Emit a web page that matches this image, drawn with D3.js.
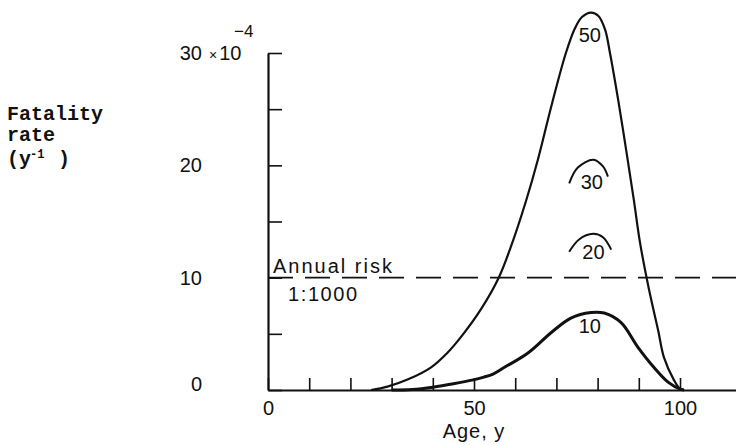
<!DOCTYPE html>
<html lang="en">
<head>
  <meta charset="UTF-8">
  <title>Fatality rate by age</title>
  <script src="https://d3js.org/d3.v7.min.js"></script>
  <style>
    body { margin: 0; background: #fff; }
    text { fill: #111; }
    .sans { font-family: "Liberation Sans", Arial, sans-serif; font-size: 20px; }
    .mono { font-family: "Liberation Mono", "Courier New", monospace; font-size: 20px; font-weight: bold; }
    .axis .domain { stroke: #111; stroke-width: 2.2; }
    .axis line { stroke: #111; stroke-width: 1.6; }
  </style>
</head>
<body>
  <svg id="chart" width="736" height="445"></svg>
  <script>
    // values, rate in units of 1e-4 per year
    const curve50Age  = [25, 29, 34, 39.5, 43.5, 47, 51.7, 56, 59, 62.6, 65.5, 69, 72.3, 74.5, 76.2, 78.4, 80.2, 81.8, 83, 85, 87, 88.8, 90.3, 92.5, 94.7, 96.1, 98.5, 100, 101];
    const curve50Rate = [0, 0.3, 0.95, 2.0, 3.3, 4.8, 7.2, 10, 12.8, 16.8, 20.5, 25.6, 30, 32.2, 33.2, 33.6, 33.3, 32.1, 30, 25.8, 21.2, 16.9, 13.1, 8.9, 5.3, 2.9, 0.9, 0.1, 0];

    const curve10Age  = [30, 35, 40, 45, 49.8, 52.4, 54.5, 57.3, 63.1, 68.7, 73.5, 78.4, 81.6, 85.7, 89.8, 93.7, 97.1, 100.2, 101];
    const curve10Rate = [0, 0.05, 0.25, 0.55, 0.9, 1.15, 1.4, 2.0, 3.3, 5.1, 6.4, 6.9, 6.85, 6.0, 3.8, 2.0, 0.7, 0.05, 0];

    const arc30Age  = [73.1, 75.2, 79.0, 81.3, 82.5];
    const arc30Rate = [18.4, 19.8, 20.5, 19.9, 19.0];
    const arc20Age  = [73.1, 75.5, 78.9, 81.3, 83.3];
    const arc20Rate = [12.3, 13.4, 13.9, 13.6, 12.5];

    const riskLevel = 10;

    const xTickValues = [0, 10, 20, 30, 40, 50, 60, 70, 80, 90, 100];
    const xTickLabels = ["0", "", "", "", "", "50", "", "", "", "", "100"];
    const yTickValues = [0, 5, 10, 15, 20, 25, 30];
    const yTickLabels = ["0", "", "10", "", "20", "", "30"];

    const svg = d3.select("svg#chart");

    const x = d3.scaleLinear().domain([0, 114]).range([268, 737.7]);
    const y = d3.scaleLinear().domain([0, 30]).range([390, 53]);

    // x axis, ticks pointing up
    const bottomAxis = d3.axisBottom(x)
                         .tickValues(xTickValues)
                         .tickSizeInner(-12)
                         .tickSizeOuter(0)
                         .tickPadding(11)
                         .tickFormat((d, i) => xTickLabels[i]);
    svg.append("g")
       .attr("class", "x axis")
       .attr("transform", `translate(0,${y(0)})`)
       .call(bottomAxis)
       .call(g => g.selectAll("text").attr("class", "sans").attr("fill", "#111"));

    // y axis, ticks pointing right
    const leftAxis = d3.axisLeft(y)
                       .tickValues(yTickValues)
                       .tickSizeInner(-14)
                       .tickSizeOuter(0)
                       .tickPadding(66)
                       .tickFormat((d, i) => yTickLabels[i]);
    svg.append("g")
       .attr("class", "y axis")
       .attr("transform", `translate(${x(0)},0)`)
       .call(leftAxis)
       .call(g => g.selectAll("text").attr("class", "sans").attr("fill", "#111"))
       .call(g => g.selectAll(".tick text").filter(d => d === 0).attr("dy", "0.0em"));

    // multiplier next to the top label
    const mult = svg.append("text")
       .attr("class", "sans")
       .attr("x", x(0) - 59)
       .attr("y", y(30) + 7);
    mult.append("tspan").style("font-size", "14px").text("×");
    mult.append("tspan").attr("dx", 2).text("10");
    svg.append("text")
       .attr("class", "sans")
       .style("font-size", "17px")
       .attr("x", x(0) - 34)
       .attr("y", y(30) - 16)
       .text("−4");

    // annual risk line
    svg.append("line")
       .attr("x1", x(0)).attr("x2", x(114))
       .attr("y1", y(riskLevel)).attr("y2", y(riskLevel))
       .attr("stroke", "#111")
       .attr("stroke-width", 1.6)
       .attr("stroke-dasharray", "25 12");

    svg.append("text")
       .attr("class", "sans")
       .attr("x", x(0) + 5)
       .attr("y", y(riskLevel) - 5)
       .style("letter-spacing", "2px")
       .text("Annual risk");
    svg.append("text")
       .attr("class", "sans")
       .attr("x", x(0) + 20)
       .attr("y", y(riskLevel) + 23)
       .style("letter-spacing", "1.6px")
       .text("1:1000");

    const lineGen = d3.line()
                      .x(d => x(d[0]))
                      .y(d => y(d[1]))
                      .curve(d3.curveCatmullRom.alpha(0.5));

    svg.append("path")
       .datum(d3.zip(curve50Age, curve50Rate))
       .attr("fill", "none")
       .attr("stroke", "#111")
       .attr("stroke-width", 2.2)
       .attr("d", lineGen);

    svg.append("path")
       .datum(d3.zip(curve10Age, curve10Rate))
       .attr("fill", "none")
       .attr("stroke", "#111")
       .attr("stroke-width", 3)
       .attr("d", lineGen);

    [[arc30Age, arc30Rate], [arc20Age, arc20Rate]].forEach(a => {
      svg.append("path")
         .datum(d3.zip(a[0], a[1]))
         .attr("fill", "none")
         .attr("stroke", "#111")
         .attr("stroke-width", 2)
         .attr("d", lineGen);
    });

    // curve labels
    [["50", 78.1, 31.0], ["30", 78.6, 17.9], ["20", 79.0, 11.7], ["10", 78.1, 5.1]].forEach(l => {
      svg.append("text")
         .attr("class", "sans")
         .attr("text-anchor", "middle")
         .attr("x", x(l[1]))
         .attr("y", y(l[2]))
         .text(l[0]);
    });

    // axis titles
    svg.append("text")
       .attr("class", "sans")
       .attr("text-anchor", "middle")
       .attr("x", x(50))
       .attr("y", 438)
       .style("letter-spacing", "1px")
       .text("Age, y");

    svg.append("text").attr("class", "mono").attr("x", 7).attr("y", 120).text("Fatality");
    svg.append("text").attr("class", "mono").attr("x", 7).attr("y", 141).text("rate");
    svg.append("text").attr("class", "mono").attr("x", 7).attr("y", 165).text("(y");
    svg.append("text").attr("class", "mono").style("font-size", "12px").attr("x", 30).attr("y", 158).text("-1");
    svg.append("text").attr("class", "mono").attr("x", 58).attr("y", 165).text(")");
  </script>
</body>
</html>
